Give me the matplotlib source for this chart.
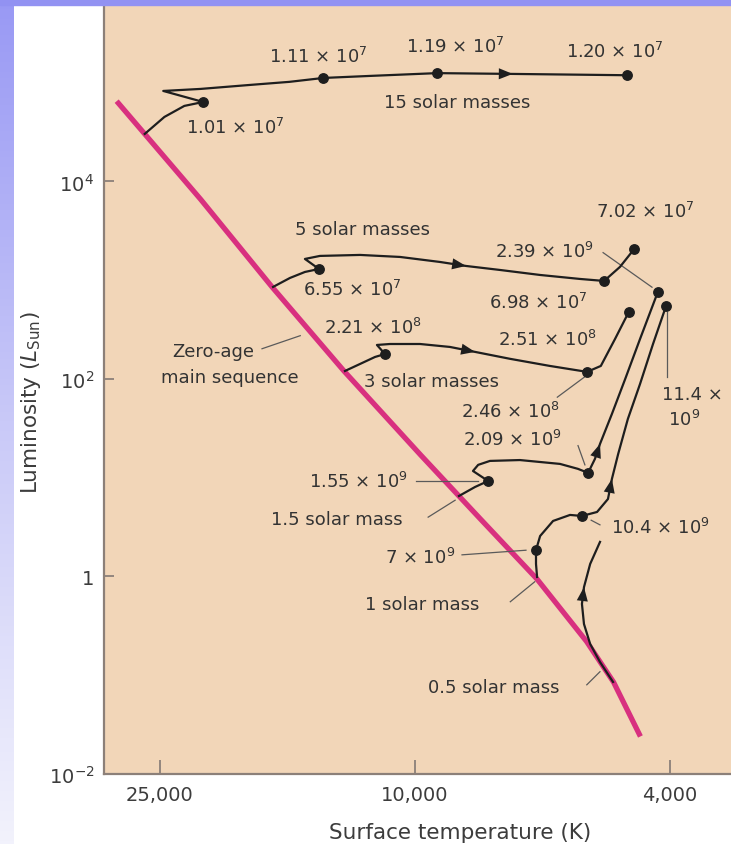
import numpy as np
import matplotlib.pyplot as plt
from matplotlib.colors import LinearSegmentedColormap
from matplotlib.patches import Rectangle
from matplotlib.ticker import NullLocator

plt.rcParams['font.family'] = ['DejaVu Sans']
plt.rcParams['mathtext.fontset'] = 'dejavusans'

# zero-age main sequence: surface temperature (K), luminosity (L_sun)
zams_temp = [29200, 21600, 16700, 12900, 9800, 7900, 6450, 5400, 4900, 4450]
zams_lum = [65000, 6600, 850, 120, 17, 3.8, 0.94, 0.22, 0.085, 0.024]

# evolutionary tracks
m15_temp = [26400, 24600, 22900, 21400, 24700, 21600, 18100, 15700, 13900, 11800, 9240, 7040, 4670]
m15_lum = [30300, 45000, 58200, 63800, 82500, 86500, 94900, 102000, 111700, 117000, 125000, 122700, 119000]

m5_temp = [16650, 15670, 14850, 14120, 14850, 14070, 12180, 10550, 9140, 8325, 7370, 6380, 5530, 5070, 4790, 4550]
m5_lum = [855, 1054, 1212, 1300, 1642, 1762, 1803, 1720, 1530, 1394, 1270, 1130, 1030, 983, 1362, 2072]

m3_temp = [12860, 12180, 11545, 11140, 11465, 10940, 9820, 8820, 8060, 7110, 6160, 5390, 5130, 4875, 4640]
m3_lum = [120.5, 142, 167, 179, 221, 226, 226, 211, 188, 160, 135.5, 118, 135.5, 254, 477]

m15s_temp = [8540, 8060, 7690, 8120, 7970, 7640, 6860, 5940, 5570, 5370, 5240, 5145, 4930, 4700, 4456, 4180]
m15s_lum = [6.53, 8.06, 9.27, 11.7, 13.5, 14.8, 15.1, 13.8, 12.3, 11.2, 15.5, 22.0, 44.2, 100, 254, 760]

m1_temp = [6450, 6475, 6475, 6380, 6090, 5730, 5490, 5200, 5000, 4930, 4820, 4655, 4456, 4253, 4058]
m1_lum = [0.989, 1.34, 1.85, 2.57, 3.65, 4.20, 4.10, 4.50, 6.09, 9.71, 17.4, 39.4, 89, 226, 549]

m05_temp = [4910, 5145, 5330, 5450, 5490, 5450, 5330, 5145]
m05_lum = [0.0855, 0.136, 0.207, 0.330, 0.528, 0.78, 1.34, 2.24]

# point indices carrying an age dot, and the point where the arrow head sits
tracks = [
    (m15_temp, m15_lum, [3, 8, 10, 12], 11),
    (m5_temp, m5_lum, [3, 13, 15], 9),
    (m3_temp, m3_lum, [3, 11, 14], 8),
    (m15s_temp, m15s_lum, [2, 9, 15], 11),
    (m1_temp, m1_lum, [2, 6, 14], 9),
    (m05_temp, m05_lum, [], 5),
]

# labels: text, x, y (axes fraction), alignment
labels = [
    ('1.11 × 10$^{7}$', 0.341, 0.934, 'center'),
    ('1.19 × 10$^{7}$', 0.561, 0.947, 'center'),
    ('1.20 × 10$^{7}$', 0.815, 0.940, 'center'),
    ('15 solar masses', 0.563, 0.874, 'center'),
    ('1.01 × 10$^{7}$', 0.209, 0.841, 'center'),
    ('7.02 × 10$^{7}$', 0.863, 0.732, 'center'),
    ('5 solar masses', 0.412, 0.709, 'center'),
    ('2.39 × 10$^{9}$', 0.703, 0.680, 'center'),
    ('6.55 × 10$^{7}$', 0.396, 0.631, 'center'),
    ('6.98 × 10$^{7}$', 0.692, 0.614, 'center'),
    ('2.21 × 10$^{8}$', 0.429, 0.581, 'center'),
    ('2.51 × 10$^{8}$', 0.708, 0.566, 'center'),
    ('Zero-age', 0.174, 0.550, 'center'),
    ('main sequence', 0.201, 0.516, 'center'),
    ('3 solar masses', 0.523, 0.511, 'center'),
    ('11.4 ×', 0.890, 0.494, 'left'),
    ('10$^{9}$', 0.900, 0.462, 'left'),
    ('2.46 × 10$^{8}$', 0.648, 0.472, 'center'),
    ('2.09 × 10$^{9}$', 0.651, 0.436, 'center'),
    ('1.55 × 10$^{9}$', 0.405, 0.381, 'center'),
    ('1.5 solar mass', 0.372, 0.332, 'center'),
    ('10.4 × 10$^{9}$', 0.887, 0.321, 'center'),
    ('7 × 10$^{9}$', 0.504, 0.282, 'center'),
    ('1 solar mass', 0.507, 0.221, 'center'),
    ('0.5 solar mass', 0.622, 0.113, 'center'),
]

# thin leader lines from labels to the curves (axes fraction)
leaders = [
    ((0.252, 0.553), (0.313, 0.570)),
    ((0.796, 0.678), (0.874, 0.633)),
    ((0.898, 0.601), (0.898, 0.516)),
    ((0.723, 0.490), (0.766, 0.516)),
    ((0.756, 0.427), (0.767, 0.402)),
    ((0.498, 0.381), (0.597, 0.381)),
    ((0.517, 0.334), (0.560, 0.356)),
    ((0.571, 0.285), (0.673, 0.291)),
    ((0.777, 0.330), (0.791, 0.324)),
    ((0.648, 0.224), (0.687, 0.250)),
    ((0.770, 0.116), (0.791, 0.133)),
]

ink = '#1e1e1e'
text_col = '#333333'
axis_col = '#8c8079'

fig = plt.figure(figsize=(7.31, 8.45), dpi=100)
fig.patch.set_facecolor('white')

# blue frame of the slide
strip = fig.add_axes([0, 0, 14 / 731, 1])
blues = LinearSegmentedColormap.from_list('blues', ['#9999f4', '#c9c9f8', '#f2f2fc'])
strip.imshow(np.linspace(0, 1, 256).reshape(-1, 1), aspect='auto', cmap=blues)
strip.set_axis_off()
fig.add_artist(Rectangle((0, 1 - 6 / 845), 1, 6 / 845, transform=fig.transFigure,
                         color='#9292f2', zorder=10))

ax = fig.add_axes([104 / 731, 70 / 845, 627 / 731, 769 / 845])
ax.set_facecolor('#f2d6b8')
ax.set_xscale('log')
ax.set_yscale('log')
ax.set_xlim(30560, 3214)
ax.set_ylim(1e-2, 6.12e5)

ax.plot(zams_temp, zams_lum, color='#d8307f', lw=3.8, solid_capstyle='butt', zorder=2)

for temp, lum, dots, arrow in tracks:
    ax.plot(temp, lum, color=ink, lw=1.6, solid_joinstyle='round', zorder=3)
    ax.plot([temp[i] for i in dots], [lum[i] for i in dots], 'o', ms=6.8, color=ink, zorder=4)
    ax.annotate('', xy=(temp[arrow], lum[arrow]), xytext=(temp[arrow - 1], lum[arrow - 1]),
                arrowprops=dict(arrowstyle='-|>,head_length=0.5,head_width=0.2',
                                mutation_scale=20, color=ink, lw=0, shrinkA=0, shrinkB=0),
                zorder=4)

for (x0, y0), (x1, y1) in leaders:
    ax.plot([x0, x1], [y0, y1], color='#5a5a5a', lw=0.9, transform=ax.transAxes, zorder=2.5)

for txt, x, y, ha in labels:
    ax.text(x, y, txt, transform=ax.transAxes, ha=ha, va='center', fontsize=13, color=text_col)

for side in ['top', 'right']:
    ax.spines[side].set_visible(False)
for side in ['left', 'bottom']:
    ax.spines[side].set_color(axis_col)
    ax.spines[side].set_linewidth(1.6)

ax.set_xticks([25000, 10000, 4000])
ax.set_xticklabels(['25,000', '10,000', '4,000'])
ax.set_yticks([1e-2, 1, 1e2, 1e4])
ax.set_yticklabels(['10$^{-2}$', '1', '10$^{2}$', '10$^{4}$'])
ax.xaxis.set_minor_locator(NullLocator())
ax.yaxis.set_minor_locator(NullLocator())
ax.tick_params(axis='x', direction='in', length=10, width=1.3, color=axis_col, pad=8,
               labelsize=14, labelcolor='#3c3c3c')
ax.tick_params(axis='y', direction='in', length=7, width=1.3, color=axis_col, pad=7,
               labelsize=14, labelcolor='#3c3c3c')

ax.set_xlabel('Surface temperature (K)', fontsize=15.5, color='#3c3c3c')
ax.xaxis.set_label_coords(0.568, -0.062)
ax.set_ylabel(r'Luminosity ($L_{\rm Sun}$)', fontsize=15.5, color='#3c3c3c')
ax.yaxis.set_label_coords(-0.097, 0.484)

fig.savefig('out.png', dpi=100)
